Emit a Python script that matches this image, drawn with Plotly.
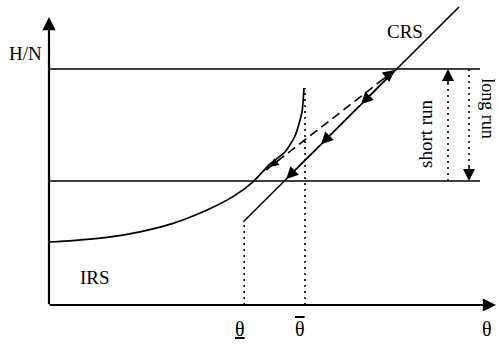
import plotly.graph_objects as go

# ---- data (chart units: theta on x, H/N on y) ----
irs_x = [0.0, 0.6, 1.45, 2.275, 3.1, 3.95, 4.6, 5.1, 5.525, 5.9, 6.15, 6.325, 6.375]
irs_y = [1.575, 1.61, 1.69, 1.83, 2.04, 2.375, 2.71, 3.08, 3.525, 3.825, 4.225, 4.825, 5.425]

crs_x = [4.86, 10.25]
crs_y = [2.08, 7.45]

hn_long = 5.9     # upper horizontal level
hn_short = 3.1    # lower horizontal level
level_end = 10.775

theta_low = 4.88
theta_bar = 6.4
theta_low_top = 2.08
theta_bar_top = 5.425

# down-left arrows along CRS (tail x, head x)
crs_arrow_x = [8.69, 7.8, 6.8, 5.93]
crs_offset = 2.78

dash_x = [5.425, 8.65]
dash_y = [3.375, 5.875]

short_run_x = 9.975
long_run_x = 10.5

axis_x_end = 11.175
axis_y_end = 7.2

tick_labels = ['<span style="text-decoration:underline">θ</span>',
               '<span style="text-decoration:overline">θ</span>',
               "θ"]
tick_pos = [4.775, 6.275, 10.95]

FONT = dict(family="Liberation Serif, Times New Roman, serif", size=19, color="black")

fig = go.Figure()

def line(x, y, width=1.6, dash=None):
    fig.add_trace(go.Scatter(x=x, y=y, mode="lines",
                             line=dict(color="black", width=width, dash=dash),
                             hoverinfo="skip", showlegend=False))

DOT = "2px,4px"
# horizontal levels
line([0, level_end], [hn_long, hn_long])
line([0, level_end], [hn_short, hn_short])
# IRS curve
fig.add_trace(go.Scatter(x=irs_x, y=irs_y, mode="lines",
                         line=dict(color="black", width=1.7, shape="spline", smoothing=0.6),
                         hoverinfo="skip", showlegend=False))
# CRS line
line(crs_x, crs_y)
# dotted verticals
line([theta_low, theta_low], [0, theta_low_top], width=1.6, dash=DOT)
line([theta_bar, theta_bar], [0, theta_bar_top], width=1.6, dash=DOT)
line([short_run_x, short_run_x], [hn_short, hn_long], width=1.6, dash=DOT)
line([long_run_x, long_run_x], [hn_long, hn_short], width=1.6, dash=DOT)
# dashed path
line(dash_x, dash_y, width=1.6, dash="9px,5px")

ann = []

def arrow(x, y, ax, ay, width=1.6, size=1.0, head=2):
    ann.append(dict(x=x, y=y, ax=ax, ay=ay, xref="x", yref="y", axref="x", ayref="y",
                    showarrow=True, arrowhead=head, arrowsize=size, arrowwidth=width,
                    arrowcolor="black", text=""))

# axes
arrow(0, axis_y_end, 0, -0.02, width=2.2, size=1.2)
arrow(axis_x_end, 0, -0.02, 0, width=2.2, size=1.2)

# CRS arrows
for i in range(len(crs_arrow_x) - 1):
    tx, hx = crs_arrow_x[i], crs_arrow_x[i + 1]
    arrow(hx, hx - crs_offset, tx, tx - crs_offset, width=1.6, size=1.5)

# dashed arrowheads (both ends)
dx = dash_x[1] - dash_x[0]
dy = dash_y[1] - dash_y[0]
arrow(dash_x[1], dash_y[1], dash_x[1] - 0.1 * dx, dash_y[1] - 0.1 * dy, size=1.5)
arrow(dash_x[0] + 0.03 * dx, dash_y[0] + 0.03 * dy, dash_x[0] + 0.1 * dx, dash_y[0] + 0.1 * dy, size=1.1)

# short / long run arrowheads
arrow(short_run_x, hn_long, short_run_x, hn_long - 0.4, size=1.5)
arrow(long_run_x, hn_short, long_run_x, hn_short + 0.4, size=1.5)

def label(x, y, text, angle=0, size=19):
    f = dict(FONT)
    f["size"] = size
    ann.append(dict(x=x, y=y, xref="x", yref="y", text=text, showarrow=False,
                    font=f, textangle=angle, xanchor="center", yanchor="middle"))

label(-0.6, 6.3, "H/N")
label(8.9, 6.85, "CRS")
label(1.15, 0.7, "IRS")
label(9.4, 4.275, "short run", angle=-90)
label(10.97, 4.9, "long run", angle=90, size=18)
for t, p in zip(tick_labels, tick_pos):
    label(p, -0.6, t, size=20)

fig.update_layout(
    width=498, height=349,
    margin=dict(l=0, r=0, t=0, b=0),
    paper_bgcolor="white", plot_bgcolor="white",
    xaxis=dict(range=[-1.225, 11.225], visible=False, fixedrange=True),
    yaxis=dict(range=[-1.1, 7.625], visible=False, fixedrange=True),
    annotations=ann,
    showlegend=False,
)

fig.write_html("out.html")
